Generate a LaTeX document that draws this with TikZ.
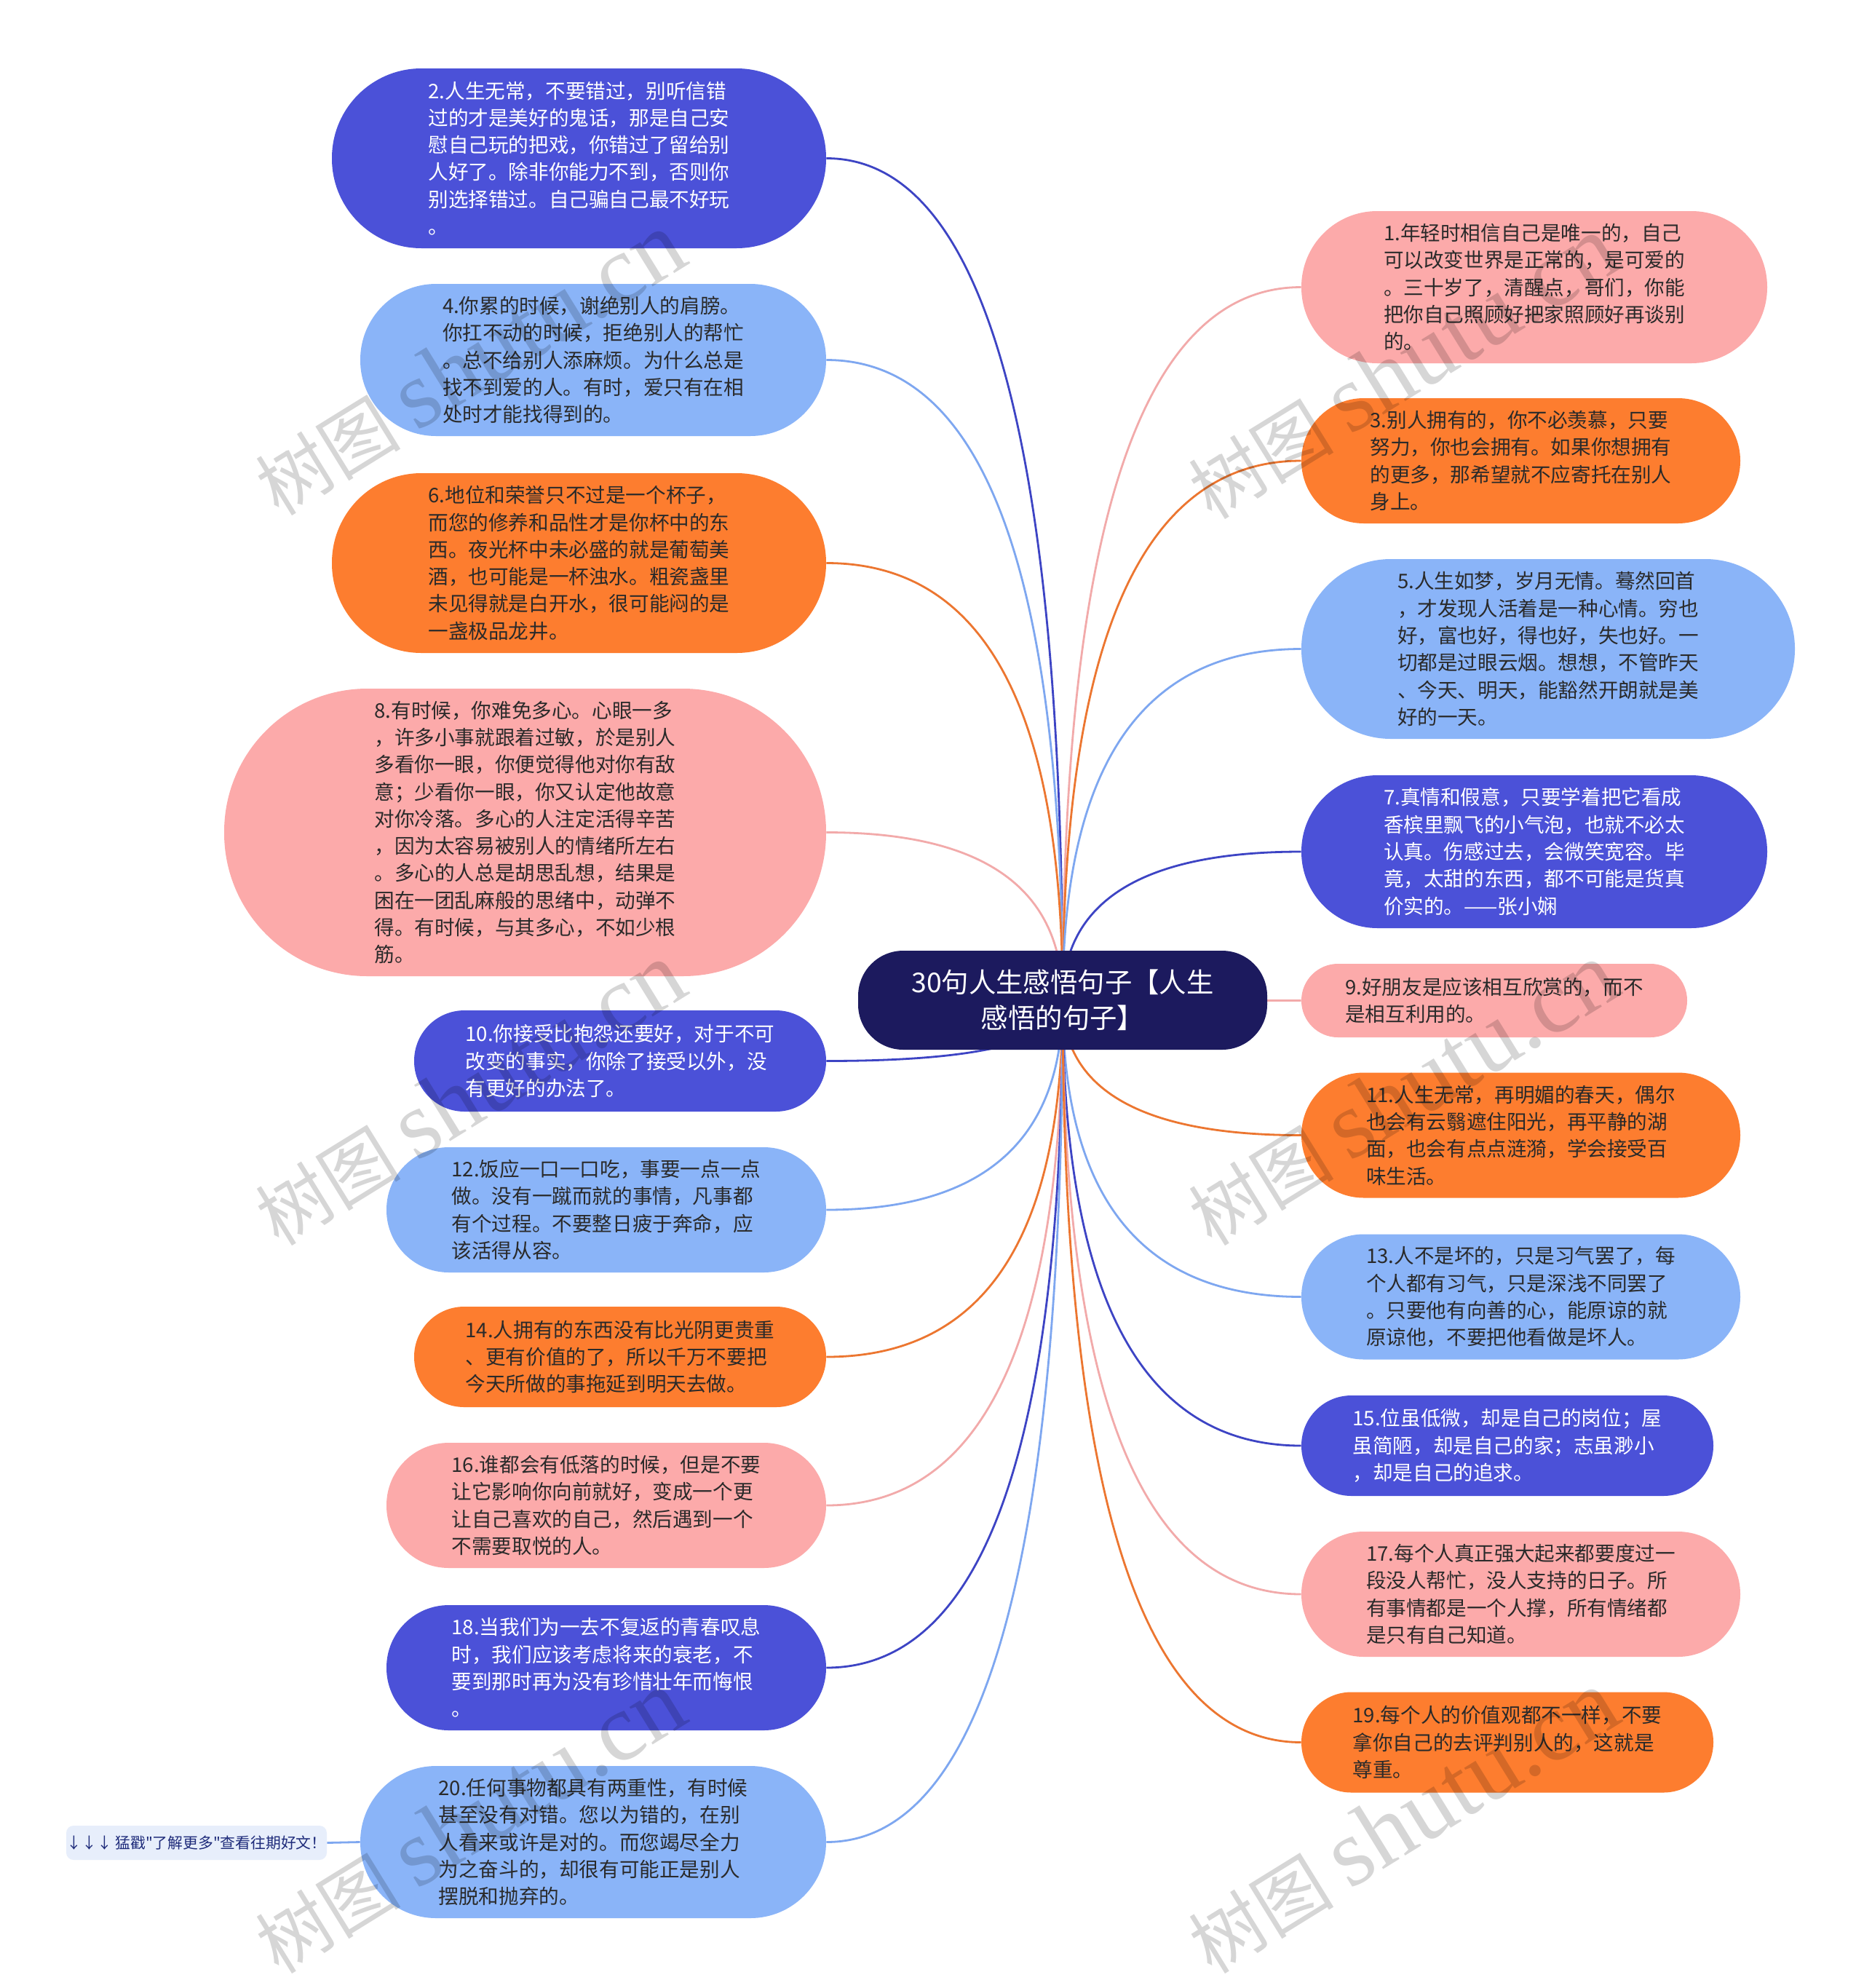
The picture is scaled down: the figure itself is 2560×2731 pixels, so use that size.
\documentclass[tikz,border=0pt]{standalone}
\usepackage{fontspec}
\setmainfont{Noto Sans CJK SC}
\newfontfamily\wmserif{Liberation Serif}
\newfontfamily\lblfont{Noto Sans CJK SC}[Ligatures=TeXOff]
\usetikzlibrary{calc}
\pgfdeclarelayer{bg}
\pgfsetlayers{bg,main}
\definecolor{dblue}{HTML}{4B51D8}
\definecolor{lblue}{HTML}{8AB4F8}
\definecolor{orng}{HTML}{FD7D2F}
\definecolor{pnk}{HTML}{FCAAAA}
\definecolor{navy}{HTML}{1C1A5E}
\definecolor{ldblue}{HTML}{3D44C4}
\definecolor{llblue}{HTML}{7EA7F0}
\definecolor{lorng}{HTML}{EC7630}
\definecolor{lpnk}{HTML}{F2AAAA}
\definecolor{txt}{HTML}{2A2A2A}
\definecolor{lblbg}{HTML}{E7EEFB}
\definecolor{lbltxt}{HTML}{1E2B7A}
\tikzset{
  pill/.style={rectangle, inner sep=0pt, align=left, text=txt,
    font=\fontsize{13.8pt}{18.65pt}\selectfont},
  sz/.style 2 args={minimum width=#1*0.5pt, minimum height=#2*0.5pt, rounded corners=#2*0.249pt},
  dbbox/.style={pill, fill=dblue, text=white},
  lbbox/.style={pill, fill=lblue},
  orbox/.style={pill, fill=orng},
  pkbox/.style={pill, fill=pnk},
  lk/.style={line width=1.4pt},
  wm/.style={text=black, opacity=0.16, rotate=31.7, inner sep=0pt,
    font=\fontsize{50pt}{60pt}\selectfont},
}
\newcommand\link[2]{\draw[lk,#1] (ctr.center) .. controls ($(ctr.center)!0.6667!(ctr.center |- #2)$) and ($(#2)!0.6667!(ctr.center |- #2)$) .. (#2);}
\newcommand\wmtext{树图 {\wmserif\fontsize{66pt}{76pt}\selectfont shutu.cn}}
\begin{document}
\begin{tikzpicture}[x=0.5pt,y=-0.5pt]
\begin{pgfonlayer}{bg}
\fill[white] (0,0) rectangle (2560,2731);
\end{pgfonlayer}
\useasboundingbox (0,0) rectangle (2560,2731);

% center
\node[rectangle, fill=navy, text=white, align=center, inner sep=0pt,
  minimum width=281pt, minimum height=68pt, rounded corners=31pt,
  font=\fontsize{18.7pt}{24.4pt}\selectfont] (ctr) at (1460,1374)
  {30句人生感悟句子【人生\\感悟的句子】};

% left column
\node[dbbox, sz={679}{247}] (n2) at (795.5,217.5) {2.人生无常，不要错过，别听信错\\过的才是美好的鬼话，那是自己安\\慰自己玩的把戏，你错过了留给别\\人好了。除非你能力不到，否则你\\别选择错过。自己骗自己最不好玩\\。};
\node[lbbox, sz={640}{209}] (n4) at (815,494.5) {4.你累的时候，谢绝别人的肩膀。\\你扛不动的时候，拒绝别人的帮忙\\。总不给别人添麻烦。为什么总是\\找不到爱的人。有时，爱只有在相\\处时才能找得到的。};
\node[orbox, sz={679}{247}] (n6) at (795.5,773.5) {6.地位和荣誉只不过是一个杯子，\\而您的修养和品性才是你杯中的东\\西。夜光杯中未必盛的就是葡萄美\\酒，也可能是一杯浊水。粗瓷盏里\\未见得就是白开水，很可能闷的是\\一盏极品龙井。};
\node[pkbox, sz={827}{395}] (n8) at (721.5,1143.5) {8.有时候，你难免多心。心眼一多\\，许多小事就跟着过敏，於是别人\\多看你一眼，你便觉得他对你有敌\\意；少看你一眼，你又认定他故意\\对你冷落。多心的人注定活得辛苦\\，因为太容易被别人的情绪所左右\\。多心的人总是胡思乱想，结果是\\困在一团乱麻般的思绪中，动弹不\\得。有时候，与其多心，不如少根\\筋。};
\node[dbbox, sz={566}{139}] (n10) at (852,1457.5) {10.你接受比抱怨还要好，对于不可\\改变的事实，你除了接受以外，没\\有更好的办法了。};
\node[lbbox, sz={604}{172}] (n12) at (833,1662) {12.饭应一口一口吃，事要一点一点\\做。没有一蹴而就的事情，凡事都\\有个过程。不要整日疲于奔命，应\\该活得从容。};
\node[orbox, sz={566}{138}] (n14) at (852,1864) {14.人拥有的东西没有比光阴更贵重\\、更有价值的了，所以千万不要把\\今天所做的事拖延到明天去做。};
\node[pkbox, sz={604}{172}] (n16) at (833,2068) {16.谁都会有低落的时候，但是不要\\让它影响你向前就好，变成一个更\\让自己喜欢的自己，然后遇到一个\\不需要取悦的人。};
\node[dbbox, sz={604}{172}] (n18) at (833,2291) {18.当我们为一去不复返的青春叹息\\时，我们应该考虑将来的衰老，不\\要到那时再为没有珍惜壮年而悔恨\\。};
\node[lbbox, sz={640}{209}] (n20) at (815,2530.5) {20.任何事物都具有两重性，有时候\\甚至没有对错。您以为错的，在别\\人看来或许是对的。而您竭尽全力\\为之奋斗的，却很有可能正是别人\\摆脱和抛弃的。};
\node[rectangle, fill=lblbg, text=lbltxt, rounded corners=5pt, inner sep=0pt,
  minimum width=179pt, minimum height=23.5pt,
  font=\lblfont\fontsize{10.4pt}{12pt}\selectfont] (more) at (270,2531.5)
  {↓↓↓ 猛戳"了解更多"查看往期好文！};

% right column
\node[pkbox, sz={640}{209}] (n1) at (2108,394.5) {1.年轻时相信自己是唯一的，自己\\可以改变世界是正常的，是可爱的\\。三十岁了，清醒点，哥们，你能\\把你自己照顾好把家照顾好再谈别\\的。};
\node[orbox, sz={603}{172}] (n3) at (2089.5,633) {3.别人拥有的，你不必羡慕，只要\\努力，你也会拥有。如果你想拥有\\的更多，那希望就不应寄托在别人\\身上。};
\node[lbbox, sz={678}{247}] (n5) at (2127,891.5) {5.人生如梦，岁月无情。蓦然回首\\，才发现人活着是一种心情。穷也\\好，富也好，得也好，失也好。一\\切都是过眼云烟。想想，不管昨天\\、今天、明天，能豁然开朗就是美\\好的一天。};
\node[dbbox, sz={640}{210}] (n7) at (2108,1170) {7.真情和假意，只要学着把它看成\\香槟里飘飞的小气泡，也就不必太\\认真。伤感过去，会微笑宽容。毕\\竟，太甜的东西，都不可能是货真\\价实的。——张小娴};
\node[pkbox, sz={530}{101}] (n9) at (2053,1374.5) {9.好朋友是应该相互欣赏的，而不\\是相互利用的。};
\node[orbox, sz={603}{172}] (n11) at (2089.5,1559.5) {11.人生无常，再明媚的春天，偶尔\\也会有云翳遮住阳光，再平静的湖\\面，也会有点点涟漪，学会接受百\\味生活。};
\node[lbbox, sz={603}{172}] (n13) at (2089.5,1781.5) {13.人不是坏的，只是习气罢了，每\\个人都有习气，只是深浅不同罢了\\。只要他有向善的心，能原谅的就\\原谅他，不要把他看做是坏人。};
\node[dbbox, sz={566}{138}] (n15) at (2071,1986) {15.位虽低微，却是自己的岗位；屋\\虽简陋，却是自己的家；志虽渺小\\，却是自己的追求。};
\node[pkbox, sz={603}{172}] (n17) at (2089.5,2190) {17.每个人真正强大起来都要度过一\\段没人帮忙，没人支持的日子。所\\有事情都是一个人撑，所有情绪都\\是只有自己知道。};
\node[orbox, sz={566}{138}] (n19) at (2071,2393.5) {19.每个人的价值观都不一样，不要\\拿你自己的去评判别人的，这就是\\尊重。};

\begin{pgfonlayer}{bg}
\link{ldblue}{n2.east}
\link{llblue}{n4.east}
\link{lorng}{n6.east}
\link{lpnk}{n8.east}
\link{ldblue}{n10.east}
\link{llblue}{n12.east}
\link{lorng}{n14.east}
\link{lpnk}{n16.east}
\link{ldblue}{n18.east}
\link{llblue}{n20.east}
\link{lpnk}{n1.west}
\link{lorng}{n3.west}
\link{llblue}{n5.west}
\link{ldblue}{n7.west}
\link{lpnk}{n9.west}
\link{lorng}{n11.west}
\link{llblue}{n13.west}
\link{ldblue}{n15.west}
\link{lpnk}{n17.west}
\link{lorng}{n19.west}
\draw[lk, llblue] (more.east) -- (n20.west);
\end{pgfonlayer}

% watermarks
\node[wm] (w1) at (645,500) {\wmtext};
\node[wm] (w2) at (1927,505) {\wmtext};
\node[wm] (w3) at (645,1503) {\wmtext};
\node[wm] (w4) at (1927,1503) {\wmtext};
\node[wm] (w5) at (645,2503) {\wmtext};
\node[wm] (w6) at (1927,2503) {\wmtext};
\end{tikzpicture}
\end{document}
